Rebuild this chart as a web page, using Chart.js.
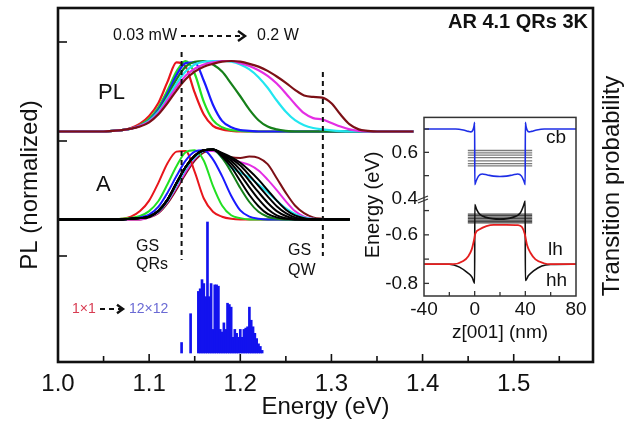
<!DOCTYPE html>
<html><head><meta charset="utf-8">
<script src="https://cdn.jsdelivr.net/npm/chart.js@4.4.1/dist/chart.umd.min.js"></script>
<style>
html,body{margin:0;padding:0;background:#fff;}
#wrap{position:relative;width:643px;height:428px;overflow:hidden;}
#main{position:absolute;left:0;top:0;}
#inset{position:absolute;left:355px;top:100px;}
</style></head><body>
<div id="wrap"><canvas id="main" width="643" height="428"></canvas><canvas id="inset" width="237" height="250"></canvas></div>
<script>
const FONT = "'Liberation Sans', Arial, Helvetica, sans-serif";

// ---------- main panel data ----------
const plEnergy = [1.00,1.01,1.02,1.03,1.04,1.05,1.06,1.07,1.08,1.09,1.10,1.11,1.12,1.13,1.14,1.15,1.16,1.17,1.18,1.19,1.20,1.21,1.22,1.23,1.24,1.25,1.26,1.27,1.28,1.29,1.30,1.31,1.32,1.33,1.34,1.35,1.36,1.37,1.38,1.39];
const plRed     = [0,0,0,0,0,0,0.01,0.02,0.05,0.11,0.22,0.40,0.70,0.98,0.92,0.55,0.24,0.08,0.03,0.01,0,0,0,0,0,0,0,0,0,0,0,0,0,0,0,0,0,0,0,0];
const plGreen   = [0,0,0,0,0,0,0.01,0.02,0.04,0.09,0.18,0.34,0.58,0.85,1.00,0.82,0.42,0.16,0.06,0.02,0.01,0,0,0,0,0,0,0,0,0,0,0,0,0,0,0,0,0,0,0];
const plBlue    = [0,0,0,0,0,0,0.01,0.02,0.04,0.08,0.16,0.31,0.54,0.80,0.97,0.98,0.72,0.38,0.15,0.06,0.02,0.01,0,0,0,0,0,0,0,0,0,0,0,0,0,0,0,0,0,0];
const plDkGreen = [0,0,0,0,0,0,0.01,0.02,0.04,0.08,0.15,0.29,0.50,0.74,0.92,0.99,1.00,0.95,0.85,0.68,0.50,0.31,0.16,0.07,0.03,0.01,0,0,0,0,0,0,0,0,0,0,0,0,0,0];
const plCyan    = [0,0,0,0,0,0,0.01,0.02,0.04,0.08,0.15,0.28,0.47,0.68,0.85,0.95,0.99,1.00,1.00,0.99,0.95,0.88,0.77,0.62,0.44,0.28,0.16,0.09,0.05,0.03,0.015,0.005,0,0,0,0,0,0,0,0];
const plMagenta = [0,0,0,0,0,0,0.01,0.02,0.04,0.08,0.14,0.26,0.44,0.63,0.79,0.89,0.95,0.98,1.00,1.00,0.97,0.93,0.87,0.79,0.68,0.54,0.39,0.26,0.19,0.17,0.12,0.07,0.03,0.01,0,0,0,0,0,0];
const plMaroon  = [0,0,0,0,0,0,0.01,0.02,0.04,0.07,0.13,0.24,0.40,0.58,0.74,0.85,0.92,0.96,0.99,1.00,0.99,0.96,0.92,0.86,0.78,0.69,0.59,0.51,0.49,0.48,0.40,0.24,0.10,0.03,0.01,0,0,0,0,0];

const aEnergy = [1.00,1.01,1.02,1.03,1.04,1.05,1.06,1.07,1.08,1.09,1.10,1.11,1.12,1.13,1.14,1.15,1.16,1.17,1.18,1.19,1.20,1.21,1.22,1.23,1.24,1.25,1.26,1.27,1.28,1.29,1.30,1.31,1.32];
const aRed     = [0,0,0,0,0,0,0,0.01,0.04,0.12,0.27,0.52,0.80,0.97,0.98,0.68,0.30,0.11,0.04,0.01,0,0,0,0,0,0,0,0,0,0,0,0,0];
const aGreen   = [0,0,0,0,0,0,0,0.01,0.02,0.05,0.12,0.26,0.50,0.76,0.96,0.99,0.84,0.48,0.20,0.06,0.02,0,0,0,0,0,0,0,0,0,0,0,0];
const aBlue    = [0,0,0,0,0,0,0,0,0.01,0.03,0.07,0.18,0.38,0.62,0.84,0.97,0.99,0.86,0.62,0.34,0.13,0.04,0.01,0,0,0,0,0,0,0,0,0,0];
const aDkGreen = [0,0,0,0,0,0,0,0,0.01,0.02,0.04,0.12,0.28,0.52,0.75,0.91,0.99,1.00,0.88,0.68,0.45,0.25,0.11,0.04,0.01,0,0,0,0,0,0,0,0];
const aBlack1  = [0,0,0,0,0,0,0,0,0.01,0.02,0.04,0.12,0.28,0.52,0.75,0.91,0.99,1.00,0.90,0.75,0.55,0.35,0.19,0.08,0.03,0.01,0,0,0,0,0,0,0];
const aBlack2  = [0,0,0,0,0,0,0,0,0.01,0.02,0.04,0.12,0.28,0.52,0.75,0.91,0.99,1.00,0.92,0.80,0.64,0.46,0.29,0.15,0.06,0.02,0,0,0,0,0,0,0];
const aBlack3  = [0,0,0,0,0,0,0,0,0.01,0.02,0.04,0.12,0.28,0.52,0.75,0.91,0.99,1.00,0.93,0.84,0.71,0.55,0.39,0.24,0.12,0.05,0.01,0,0,0,0,0,0];
const aBlack4  = [0,0,0,0,0,0,0,0,0.01,0.02,0.04,0.12,0.28,0.52,0.75,0.91,0.99,1.00,0.94,0.87,0.77,0.63,0.48,0.33,0.19,0.09,0.03,0.01,0,0,0,0,0];
const aBlack5  = [0,0,0,0,0,0,0,0,0.01,0.02,0.04,0.12,0.28,0.52,0.75,0.91,0.99,1.00,0.95,0.89,0.81,0.70,0.57,0.42,0.27,0.14,0.06,0.02,0,0,0,0,0];
const aCyan    = [0,0,0,0,0,0,0,0,0.01,0.02,0.04,0.11,0.26,0.49,0.72,0.89,0.98,1.00,0.88,0.74,0.67,0.60,0.50,0.39,0.27,0.16,0.08,0.03,0.01,0,0,0,0];
const aMagenta = [0,0,0,0,0,0,0,0,0,0,0.03,0.10,0.25,0.46,0.68,0.87,0.98,0.98,0.92,0.86,0.82,0.78,0.70,0.57,0.42,0.26,0.12,0.04,0.01,0,0,0,0];
const aMaroon  = [0,0,0,0,0,0,0,0,0,0,0.03,0.09,0.23,0.43,0.65,0.84,0.96,0.99,0.93,0.89,0.88,0.90,0.88,0.79,0.59,0.38,0.20,0.09,0.03,0.01,0,0,0];

// transition probabilities (normalized to the strongest line)
const barEnergy = [1.1356,1.1455,1.154,1.156,1.158,1.160,1.162,1.164,1.166,1.168,1.170,1.172,1.174,1.176,1.178,1.180,1.182,1.184,1.186,1.188,1.190,1.192,1.194,1.196,1.198,1.200,1.202,1.204,1.206,1.208,1.210,1.212,1.214,1.216,1.218,1.220,1.222,1.224];
const barProb   = [0.08,0.30,0.47,0.49,0.56,0.53,0.43,1.00,0.43,0.53,0.18,0.52,0.52,0.51,0.18,0.16,0.23,0.18,0.38,0.37,0.35,0.12,0.18,0.15,0.12,0.18,0.12,0.18,0.19,0.20,0.35,0.25,0.20,0.15,0.11,0.07,0.05,0.02];

const gsEnergies = [1.1356, 1.2906];     // GS QRs, GS QW
const xTickLabels = [1.0,1.1,1.2,1.3,1.4,1.5];
const xTickMarks = [1.05,1.10,1.15,1.20,1.25,1.30,1.35,1.40,1.45,1.50,1.55];
const yTickMarks = [1.06,2.21,3.20];

// ---------- inset data ----------
const cbZ = [-40,-15,-9,-5,-3,-1.5,-0.5,0,0.1,1,3,6,10,15,20,25,30,34,37,39,39.9,40,40.5,41.5,43,45,49,55,80];
const cbE = [0.700,0.700,0.696,0.690,0.688,0.694,0.712,0.729,0.461,0.475,0.498,0.507,0.503,0.498,0.496,0.498,0.503,0.507,0.498,0.475,0.461,0.729,0.712,0.694,0.688,0.690,0.696,0.700,0.700];
const hhZ = [-40,-20,-12,-6,-2,-0.5,0,0.1,1.5,4,9,20,30,36,38.5,39.9,40,42.5,46.5,53,60,80];
const hhE = [-0.721,-0.721,-0.733,-0.755,-0.775,-0.795,-0.799,-0.475,-0.495,-0.515,-0.528,-0.535,-0.528,-0.510,-0.481,-0.461,-0.788,-0.768,-0.748,-0.728,-0.722,-0.721];
const lhZ = [-40,-17,-9,-5,-2.4,-0.5,0.5,4,9.3,15,25,34,37.3,39.5,41.3,44,48,54.6,60,80];
const lhE = [-0.721,-0.721,-0.708,-0.688,-0.661,-0.621,-0.595,-0.577,-0.564,-0.559,-0.559,-0.560,-0.568,-0.595,-0.641,-0.674,-0.701,-0.717,-0.721,-0.721];
const eLevels = [0.608,0.598,0.588,0.577,0.563,0.552,0.542];
const hLevels = [-0.515,-0.521,-0.527,-0.533,-0.539,-0.545,-0.551];
const levelZ = [-5.4, 45.4];
const insetXLabels = [-40,0,40,80];
const insetXMarks = [-20,0,20,40,60];
const insetUpperLabels = [0.4,0.6];
const insetUpperMarks = [0.5,0.6,0.7];
const insetLowerLabels = [-0.8,-0.6];
const insetLowerMarks = [-0.5,-0.6,-0.7,-0.8];

// ---------- layout constants (vertical offsets of the stacked panels) ----------
const Y_MAX = 3.54;
const PL_BASE = 2.305, PL_H = 0.705;
const A_BASE = 1.425, A_H = 0.70;
const BAR_BASE = 0.09, BAR_H = 1.31;

function curve(xs, vs, base, h, color, w) {
  return {type:'line', data: xs.map((x,i)=>({x:x, y: base + vs[i]*h})), borderColor: color, borderWidth: w,
          pointRadius:0, fill:false, tension:0.4, cubicInterpolationMode:'monotone'};
}

const datasets = [];
datasets.push({type:'bar', data: barEnergy.map((e,i)=>({x:e, y:[BAR_BASE, BAR_BASE + barProb[i]*BAR_H]})),
  backgroundColor:'#1212ee', borderWidth:0, barThickness:2, grouped:false});
[[plRed,'#e8161c'],[plGreen,'#22e022'],[plBlue,'#1a1aff'],[plDkGreen,'#16801a'],[plCyan,'#22e6f0'],[plMagenta,'#e42ee4'],[plMaroon,'#7c1016']]
  .forEach(([v,c])=>datasets.push(curve(plEnergy, v, PL_BASE, PL_H, c, 2.2)));
[[aMaroon,'#7c1016'],[aMagenta,'#e42ee4'],[aCyan,'#22e6f0'],[aRed,'#e8161c'],[aGreen,'#22e022'],[aBlue,'#1a1aff'],[aDkGreen,'#16801a'],
 [aBlack5,'#000'],[aBlack4,'#000'],[aBlack3,'#000'],[aBlack2,'#000'],[aBlack1,'#000']]
  .forEach(([v,c])=>datasets.push(curve(aEnergy, v, A_BASE, A_H, c, 2)));
const gsTop = [3.10, 2.90], gsBottom = [1.02, 1.06];
gsEnergies.forEach((e,i)=>datasets.push({type:'line', data:[{x:e,y:gsTop[i]},{x:e,y:gsBottom[i]}],
  borderColor:'#111', borderWidth:2, borderDash:[5,4], pointRadius:0, tension:0}));
datasets.forEach((d,i)=>{ d.order = -i; });

function txt(ctx, s, x, y, size, color, align, weight) {
  ctx.save();
  ctx.font = (weight||'normal') + ' ' + size + 'px ' + FONT;
  ctx.fillStyle = color || '#111';
  ctx.textAlign = align || 'left';
  ctx.textBaseline = 'middle';
  ctx.fillText(s, x, y);
  ctx.restore();
}
function dashArrow(ctx, x1, x2, y, head, lw) {
  ctx.save();
  ctx.strokeStyle = '#111'; ctx.lineWidth = lw;
  ctx.setLineDash([5,4]);
  ctx.beginPath(); ctx.moveTo(x1,y); ctx.lineTo(x2-2,y); ctx.stroke();
  ctx.setLineDash([]);
  ctx.lineWidth = lw + 0.4;
  ctx.beginPath(); ctx.moveTo(x2-head, y-head*0.7); ctx.lineTo(x2, y); ctx.lineTo(x2-head, y+head*0.7); ctx.stroke();
  ctx.restore();
}

const mainDeco = {
  id:'mainDeco',
  afterDraw(chart) {
    const {ctx, chartArea:a, scales:{x, y}} = chart;
    ctx.save();
    ctx.strokeStyle = '#111';
    ctx.lineWidth = 1.6;
    xTickMarks.forEach(v=>{
      const px = x.getPixelForValue(v);
      const len = Math.abs(v*10 - Math.round(v*10)) < 1e-6 ? 8 : 6;
      ctx.beginPath(); ctx.moveTo(px, a.bottom); ctx.lineTo(px, a.bottom - len); ctx.stroke();
    });
    yTickMarks.forEach(v=>{
      const py = y.getPixelForValue(v);
      ctx.beginPath(); ctx.moveTo(a.left, py); ctx.lineTo(a.left + 9, py); ctx.stroke();
    });
    ctx.lineWidth = 2.6;
    ctx.strokeRect(a.left, a.top, a.right - a.left, a.bottom - a.top);
    ctx.restore();

    txt(ctx, 'AR 4.1 QRs 3K', 588, 22, 20, '#111', 'right', 'bold');
    txt(ctx, '0.03 mW', 113, 36, 16);
    dashArrow(ctx, 181, 245, 36, 7, 2);
    txt(ctx, '0.2 W', 257, 36, 16);
    txt(ctx, 'PL', 98, 93, 22);
    txt(ctx, 'A', 96, 185, 22);
    txt(ctx, 'GS', 136, 247, 16);
    txt(ctx, 'QRs', 136, 265, 16);
    txt(ctx, 'GS', 288, 251, 16);
    txt(ctx, 'QW', 288, 271, 16);
    txt(ctx, '1\u00d71', 72, 309, 14, '#d83c52');
    dashArrow(ctx, 100, 123, 309, 6, 2);
    txt(ctx, '12\u00d712', 129, 309, 14, '#6a6ad4');
    ctx.save();
    ctx.translate(612, 186); ctx.rotate(-Math.PI/2);
    txt(ctx, 'Transition probability', 0, 0, 24, '#111', 'center');
    ctx.restore();
  }
};

new Chart(document.getElementById('main'), {
  type:'line',
  data:{datasets},
  options:{
    responsive:false, animation:false, events:[],
    layout:{padding:{top:8,left:0,right:0,bottom:0}},
    plugins:{legend:{display:false}, tooltip:{enabled:false}},
    scales:{
      x:{type:'linear', min:1.0, max:1.587, offset:false,
         afterFit(s){ s.height = 66; },
         afterBuildTicks(s){ s.ticks = xTickLabels.map(v=>({value:v})); },
         ticks:{callback:v=>Number(v).toFixed(1), font:{family:FONT,size:24}, color:'#111', padding:8, maxRotation:0, autoSkip:false},
         grid:{display:false, drawTicks:false}, border:{display:false},
         title:{display:true, text:'Energy (eV)', font:{family:FONT,size:24}, color:'#111', padding:{top:0,bottom:6}}},
      y:{type:'linear', min:0, max:Y_MAX,
         afterFit(s){ s.width = 58; },
         ticks:{display:false}, grid:{display:false, drawTicks:false}, border:{display:false},
         title:{display:true, text:'PL (normalized)', font:{family:FONT,size:24}, color:'#111', padding:{top:16,bottom:0}}},
      y2:{type:'linear', position:'right', min:0, max:Y_MAX,
         afterFit(s){ s.width = 50; },
         ticks:{display:false}, grid:{display:false, drawTicks:false}, border:{display:false}}
    }
  },
  plugins:[mainDeco]
});

// ---------- inset ----------
function icurve(zs, es, axis, color, w) {
  return {data: zs.map((z,i)=>({x:z, y:es[i]})), yAxisID: axis, borderColor: color, borderWidth: w,
          pointRadius:0, fill:false, tension:0.4, cubicInterpolationMode:'monotone'};
}
const insetSets = [];
eLevels.forEach(e=>insetSets.push({data: levelZ.map(z=>({x:z,y:e})), yAxisID:'yU', borderColor:'#7a7a7a', borderWidth:1.3, pointRadius:0, tension:0}));
hLevels.forEach(e=>insetSets.push({data: levelZ.map(z=>({x:z,y:e})), yAxisID:'yL', borderColor:'#4a4a4a', borderWidth:1.3, pointRadius:0, tension:0}));
insetSets.push(icurve(cbZ, cbE, 'yU', '#1e2ee6', 1.6));
insetSets.push(icurve(hhZ, hhE, 'yL', '#111', 1.6));
insetSets.push(icurve(lhZ, lhE, 'yL', '#e41e1e', 1.8));
insetSets.forEach((d,i)=>{ d.order = -i; });

const insetDeco = {
  id:'insetDeco',
  beforeDatasetsDraw(chart) {
    const {ctx, chartArea:a} = chart;
    ctx.save(); ctx.fillStyle = '#fff'; ctx.fillRect(a.left, a.top, a.right-a.left, a.bottom-a.top); ctx.restore();
  },
  afterDraw(chart) {
    const {ctx, chartArea:a, scales:{x, yU, yL}} = chart;
    ctx.save();
    ctx.strokeStyle = '#333'; ctx.lineWidth = 1.3;
    insetXMarks.forEach(v=>{
      const px = x.getPixelForValue(v);
      const len = (v % 40 === 0) ? 5 : 4;
      ctx.beginPath(); ctx.moveTo(px, a.bottom); ctx.lineTo(px, a.bottom - len); ctx.stroke();
    });
    insetUpperMarks.forEach(v=>{ const py = yU.getPixelForValue(v); ctx.beginPath(); ctx.moveTo(a.left, py); ctx.lineTo(a.left+5, py); ctx.stroke(); });
    insetLowerMarks.forEach(v=>{ const py = yL.getPixelForValue(v); ctx.beginPath(); ctx.moveTo(a.left, py); ctx.lineTo(a.left+5, py); ctx.stroke(); });
    ctx.lineWidth = 1.5;
    ctx.strokeRect(a.left, a.top, a.right-a.left, a.bottom-a.top);
    // axis break marker
    const yb = yU.getPixelForValue(0.4);
    ctx.lineWidth = 1.2;
    ctx.beginPath(); ctx.moveTo(a.left-6, yb+1); ctx.lineTo(a.left+4, yb-3); ctx.stroke();
    ctx.beginPath(); ctx.moveTo(a.left-6, yb+4); ctx.lineTo(a.left+4, yb); ctx.stroke();
    ctx.restore();
    txt(ctx, 'cb', 191, 38, 19);
    txt(ctx, 'lh', 193, 150, 19);
    txt(ctx, 'hh', 191, 181, 19);
    ctx.save();
    ctx.translate(18, 105); ctx.rotate(-Math.PI/2);
    txt(ctx, 'Energy (eV)', 0, 0, 20, '#111', 'center');
    ctx.restore();
  }
};

const yCommon = {
  type:'linear', position:'left', stack:'energy',
  afterFit(s){ s.width = 69; },
  ticks:{callback:v=>Number(v).toFixed(1), font:{family:FONT,size:19}, color:'#111', padding:6, autoSkip:false},
  grid:{display:false, drawTicks:false}, border:{display:false}
};

new Chart(document.getElementById('inset'), {
  type:'line',
  data:{datasets: insetSets},
  options:{
    responsive:false, animation:false, events:[],
    layout:{padding:{top:12,right:16,left:0,bottom:0}},
    plugins:{legend:{display:false}, tooltip:{enabled:false}},
    scales:{
      x:{type:'linear', min:-40, max:80,
         afterFit(s){ s.height = 54; },
         afterBuildTicks(s){ s.ticks = insetXLabels.map(v=>({value:v})); },
         ticks:{callback:v=>String(v), font:{family:FONT,size:19}, color:'#111', padding:2, maxRotation:0, autoSkip:false},
         grid:{display:false, drawTicks:false}, border:{display:false},
         title:{display:true, text:'z[001] (nm)', font:{family:FONT,size:19}, color:'#111', padding:{top:0,bottom:6}}},
      yL:Object.assign({}, yCommon, {min:-0.852, max:-0.452, stackWeight:100,
         afterBuildTicks(s){ s.ticks = insetLowerLabels.map(v=>({value:v})); }}),
      yU:Object.assign({}, yCommon, {min:0.4, max:0.75, stackWeight:84,
         afterBuildTicks(s){ s.ticks = insetUpperLabels.map(v=>({value:v})); }})
    }
  },
  plugins:[insetDeco]
});
</script>
</body></html>
